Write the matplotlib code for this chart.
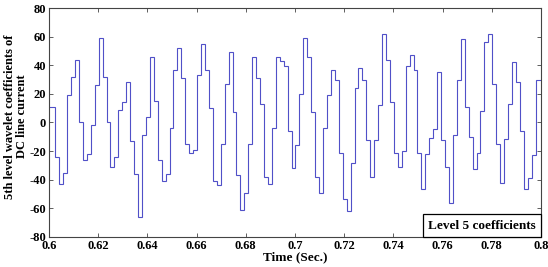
import numpy as np
import matplotlib
matplotlib.use('Agg')
import matplotlib.pyplot as plt
from matplotlib.lines import Line2D

## Data: level 5 wavelet coefficients, one value per 1.6 ms step
t_start = 0.5994
t_step = 0.0016
coeffs = [11, 11, -24, -43, -35, 19, 32, 43.5, 0, -26,
          -22, -2, 26, 59, 32, 0, -31, -24, 9, 14,
          28, -13, -36, -66, -9, 3.5, 46, 15, -26, -41,
          -36, -3.5, 37, 52, 31, -15, -21, -19, 33, 55,
          36.5, 10, -41, -44, -15, 27, 49, 7, -37, -61,
          -49, -15, 46, 31, 13, -38, -43, -4, 46, 43,
          39.5, -6, -32, -16, 20, 59, 46, 7, -38, -49,
          -3.5, 19, 37, 30, -21, -53.5, -62, -28, 24, 38,
          29.5, -12, -38, -12, 12, 62, 44, 14, -21, -31,
          -20, 39.5, 47, 37, -21, -46.5, -22, -10.5, -4.5, 35,
          -12, -31, -56, -9, 29.5, 58, 10.5, -10, -32.5, -21.5,
          8, 56, 62, 27, -15, -42.5, -11.5, 13, 42, 28,
          -6, -46.5, -38.5, -23, 30, 30]
edges = t_start + t_step * np.arange(len(coeffs) + 1)

x_ticks = [0.6, 0.62, 0.64, 0.66, 0.68, 0.7, 0.72, 0.74, 0.76, 0.78, 0.8]
x_ticklabels = ['0.6', '0.62', '0.64', '0.66', '0.68', '0.7', '0.72', '0.74', '0.76', '0.78', '0.8']
y_ticks = [-80, -60, -40, -20, 0, 20, 40, 60, 80]

plt.rcParams['font.family'] = ['Liberation Serif', 'DejaVu Serif']
plt.rcParams['font.weight'] = 'bold'
plt.rcParams['axes.unicode_minus'] = False

fig = plt.figure(figsize=(5.48, 2.67), dpi=100)
ax = fig.add_axes([0.0894, 0.1124, 0.8978, 0.8576])

ax.stairs(coeffs, edges, color='#5050c8', lw=0.8)

ax.set_xlim(0.6, 0.8)
ax.set_ylim(-80, 80)
ax.set_xticks(x_ticks)
ax.set_xticklabels(x_ticklabels)
ax.set_yticks(y_ticks)
ax.tick_params(direction='in', length=3, width=0.6, top=True, right=True,
               labelsize=9, pad=2, color='#444444')
for lab in ax.get_xticklabels() + ax.get_yticklabels():
    lab.set_fontweight('bold')
for s in ax.spines.values():
    s.set_color('#444444')
    s.set_linewidth(0.8)

ax.set_xlabel('Time (Sec.)', fontsize=9.5, fontweight='bold', labelpad=0)
ax.set_ylabel('5th level wavelet coefficients of\nDC line current', fontsize=9,
              fontweight='bold', linespacing=1.0)
ax.yaxis.set_label_coords(-0.042, 0.526)

## legend (text only, box in the lower right corner)
h = Line2D([], [], color='none')
leg = ax.legend([h], ['Level 5 coefficients'], loc='lower right', borderaxespad=0,
                handlelength=0, handletextpad=0, fancybox=False, framealpha=1,
                prop={'size': 9.5, 'weight': 'bold'}, borderpad=0.4)
leg.get_frame().set_edgecolor('black')
leg.get_frame().set_linewidth(0.9)

fig.savefig('out.png', dpi=100)
